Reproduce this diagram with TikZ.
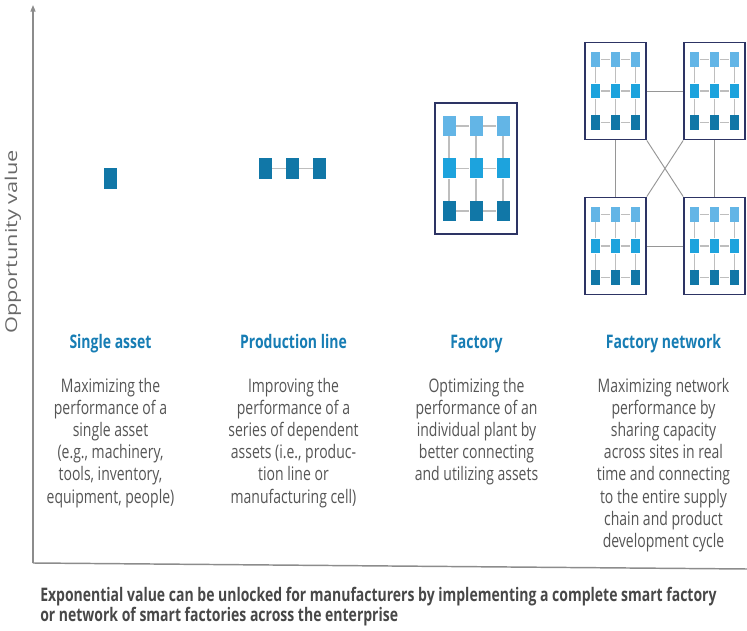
\documentclass[tikz,border=0pt]{standalone}
\usepackage{fontspec}
\setmainfont{Open Sans}[FakeStretch=0.75]
\newfontfamily\axisfont{Open Sans}
\usetikzlibrary{arrows.meta}

\definecolor{headblue}{RGB}{23,125,180}
\definecolor{bodygrey}{RGB}{85,85,85}
\definecolor{capgrey}{RGB}{72,72,72}
\definecolor{axisgrey}{RGB}{140,140,140}
\definecolor{labelgrey}{RGB}{105,105,105}
\definecolor{lightblue}{RGB}{99,181,230}
\definecolor{midblue}{RGB}{29,163,221}
\definecolor{darkblue}{RGB}{17,119,167}
\definecolor{framenavy}{RGB}{45,52,100}

\tikzset{
  asset/.style={rectangle, inner sep=0pt, minimum width=9.75pt, minimum height=15.75pt, fill=darkblue},
  plant/.style={rectangle, inner sep=0pt, draw=framenavy, line width=1.4pt},
  link/.style={draw={rgb, 255:red, 190; green, 190; blue, 190}, line width=1.1pt},
  netlink/.style={draw={rgb, 255:red, 150; green, 150; blue, 150}, line width=0.7pt},
  axis/.style={draw=axisgrey, line width=1.1pt},
  heading/.style={anchor=base, inner sep=0pt, text=headblue, font=\bfseries\fontsize{14}{16}\selectfont},
  body/.style={anchor=north, align=center, inner sep=0pt, text=bodygrey, font=\fontsize{14}{16.6}\selectfont},
  caption/.style={anchor=north west, align=left, inner sep=0pt, text=capgrey, font=\bfseries\fontsize{14}{13.5}\selectfont},
  axislabel/.style={rotate=90, inner sep=0pt, text=labelgrey, font=\axisfont\fontsize{16.3}{18}\selectfont}
}

\begin{document}
\begin{tikzpicture}[x=0.75pt,y=0.75pt,yscale=-1,xscale=1]
	\useasboundingbox (0,0) rectangle (747,631);
	
	%Straight Lines [id:axes] 
	\coordinate (origin) at (33,563);
	\coordinate (ytop) at (33,5);
	\coordinate (xend) at (747,569);
	\draw [axis, -{Triangle[length=5pt,width=3.75pt]}] (origin) -- (ytop);
	\draw [axis] (origin) -- (xend);
	
	%Shape: Rectangle [id:single] 
	\node [asset] (sa) at (110.5,178.5) {};
	
	%Shape: Rectangle [id:line] 
	\node [asset] (pl1) at (265.5,168.5) {};
	\node [asset] (pl2) at (292.5,168.5) {};
	\node [asset] (pl3) at (319.5,168.5) {};
	\draw [link] (pl1) -- (pl2) -- (pl3);
	
	%Shape: Rectangle [id:plants] 
	\foreach \b/\cx/\cy/\s in {fa/476/168.5/1, nw/615.5/91/0.74, ne/714.5/91/0.74, sw/615.5/246/0.74, se/714.5/246/0.74}{
		\node [plant, minimum width=\s*61.5pt, minimum height=\s*98.25pt] (\b) at (\cx,\cy) {};
		\foreach \r/\col in {1/lightblue, 2/midblue, 3/darkblue}
			\foreach \k in {1,2,3}
				\node [asset, fill=\col, minimum width=\s*9.75pt, minimum height=\s*15pt] (\b\r\k) at ({\cx+(\k-2)*27*\s},{\cy+(\r-2)*42.5*\s}) {};
		\foreach \i in {1,2,3}{
			\draw [link] (\b\i1) -- (\b\i2) -- (\b\i3);
			\draw [link] (\b1\i) -- (\b2\i) -- (\b3\i);
		}
	}
	
	%Straight Lines [id:network] 
	\draw [netlink] (nw) -- (ne);
	\draw [netlink] (sw) -- (se);
	\draw [netlink] (nw) -- (sw);
	\draw [netlink] (ne) -- (se);
	\draw [netlink] (nw.south east) -- (se.north west);
	\draw [netlink] (ne.south west) -- (sw.north east);
	
	% Text Node
	\draw (13,242) node [axislabel] (ylabel) {\scalebox{1}[0.75]{Opportunity value}};
	% Text Node
	\draw (110.5,349) node [heading] (hsingle) {Single asset};
	% Text Node
	\draw (293.5,349) node [heading] (hline) {Production line};
	% Text Node
	\draw (476.5,349) node [heading] (hfactory) {Factory};
	% Text Node
	\draw (663.5,349) node [heading] (hnetwork) {Factory network};
	% Text Node
	\draw (110.5,378) node [body] (tsingle) {Maximizing the\\performance of a\\single asset\\(e.g., machinery,\\tools, inventory,\\equipment, people)};
	% Text Node
	\draw (293.5,378) node [body] (tline) {Improving the\\performance of a\\series of dependent\\assets (i.e., produc-\\tion line or\\manufacturing cell)};
	% Text Node
	\draw (476.5,378) node [body] (tfactory) {Optimizing the\\performance of an\\individual plant by\\better connecting\\and utilizing assets};
	% Text Node
	\draw (663.5,378) node [body] (tnetwork) {Maximizing network\\performance by\\sharing capacity\\across sites in real\\time and connecting\\to the entire supply\\chain and product\\development cycle};
	% Text Node
	\draw (40,587) node [caption] (note) {Exponential value can be unlocked for manufacturers by implementing a complete smart factory\\or network of smart factories across the enterprise};
	
\end{tikzpicture}
\end{document}
